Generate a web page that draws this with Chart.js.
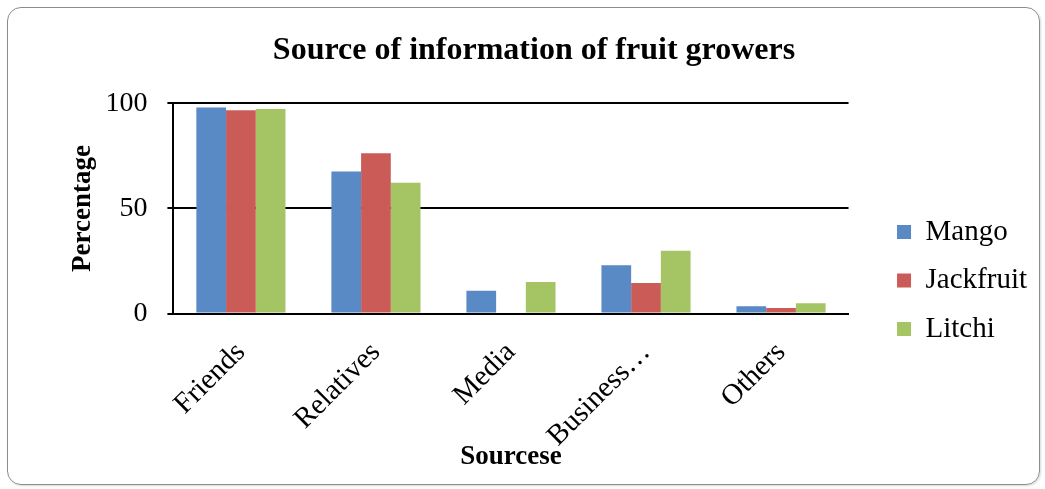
<!DOCTYPE html>
<html>
<head>
<meta charset="utf-8">
<script src="https://cdn.jsdelivr.net/npm/chart.js@4.4.0/dist/chart.umd.min.js"></script>
<style>
    body { margin: 0; background: #fff; }
    #wrap { position: relative; width: 1045px; height: 489px; }
    #frame {
        position: absolute; left: 7px; top: 7px; width: 1031px; height: 476px;
        border: 1px solid #8c8c8c; border-radius: 14px; pointer-events: none;
        box-shadow: 1px 1px 2px rgba(0,0,0,0.15);
    }
    canvas { position: absolute; left: 0; top: 0; }
</style>
</head>
<body>
<div id="wrap">
    <canvas id="fruit-chart" width="1045" height="489"></canvas>
    <div id="frame"></div>
</div>
<script>
const sources = ['Friends', 'Relatives', 'Media', 'Business…', 'Others'];
const mango = [98.1, 67.6, 10.8, 23.0, 3.5];
const jackfruit = [96.8, 76.3, 0, 14.6, 2.7];
const litchi = [97.3, 62.3, 15.0, 29.9, 4.9];
const yTicks = [0, 50, 100];

const serif = "'Liberation Serif', 'Times New Roman', serif";

const ctx = document.getElementById('fruit-chart');

new Chart(ctx, {
    type: 'bar',
    data: {
        labels: sources,
        datasets: [
            { label: 'Mango', data: mango, backgroundColor: '#5a8ac6' },
            { label: 'Jackfruit', data: jackfruit, backgroundColor: '#cb5b57' },
            { label: 'Litchi', data: litchi, backgroundColor: '#a5c464' },
        ],
    },
    options: {
        responsive: false,
        animation: false,
        layout: { padding: { left: 31, right: 8, top: 8, bottom: 0 } },
        datasets: {
            bar: { categoryPercentage: 0.66, barPercentage: 1.0 },
        },
        plugins: {
            title: {
                display: true,
                text: 'Source of information of fruit growers',
                color: '#000',
                font: { family: serif, size: 32, weight: 'bold' },
                padding: { top: 24, bottom: 33 },
            },
            legend: {
                position: 'right',
                // blank title only pushes the entries down a little
                title: {
                    display: true,
                    text: ' ',
                    color: 'rgba(0,0,0,0)',
                    font: { size: 1 },
                    padding: { top: 63, bottom: 0 },
                },
                labels: {
                    color: '#000',
                    font: { family: serif, size: 29 },
                    boxWidth: 14,
                    boxHeight: 14,
                    padding: 19.5,
                },
            },
            tooltip: { enabled: false },
        },
        scales: {
            x: {
                grid: { display: false },
                border: { display: true, color: '#000', width: 2 },
                ticks: {
                    color: '#000',
                    font: { family: serif, size: 29 },
                    minRotation: 45,
                    maxRotation: 45,
                    padding: 14,
                },
                title: {
                    display: true,
                    text: 'Sourcese',
                    color: '#000',
                    font: { family: serif, size: 27, weight: 'bold' },
                    padding: { top: -27, bottom: 16 },
                },
            },
            y: {
                min: 0,
                max: 100,
                afterBuildTicks: (axis) => {
                    axis.ticks = yTicks.map((v) => ({ value: v }));
                },
                grid: { color: '#000', lineWidth: 2, tickLength: 6 },
                border: { display: true, color: '#000', width: 2 },
                ticks: {
                    color: '#000',
                    font: { family: serif, size: 28 },
                    padding: 20,
                },
                title: {
                    display: true,
                    text: 'Percentage',
                    color: '#000',
                    font: { family: serif, size: 27, weight: 'bold' },
                    padding: { top: 36, bottom: -14 },
                },
            },
            // empty strip between the plot and the legend
            gap: {
                type: 'linear',
                position: 'right',
                display: true,
                grid: { display: false, drawTicks: false },
                border: { display: false },
                ticks: { display: false },
                afterFit: (axis) => { axis.width = 29; },
            },
        },
    },
});
</script>
</body>
</html>
